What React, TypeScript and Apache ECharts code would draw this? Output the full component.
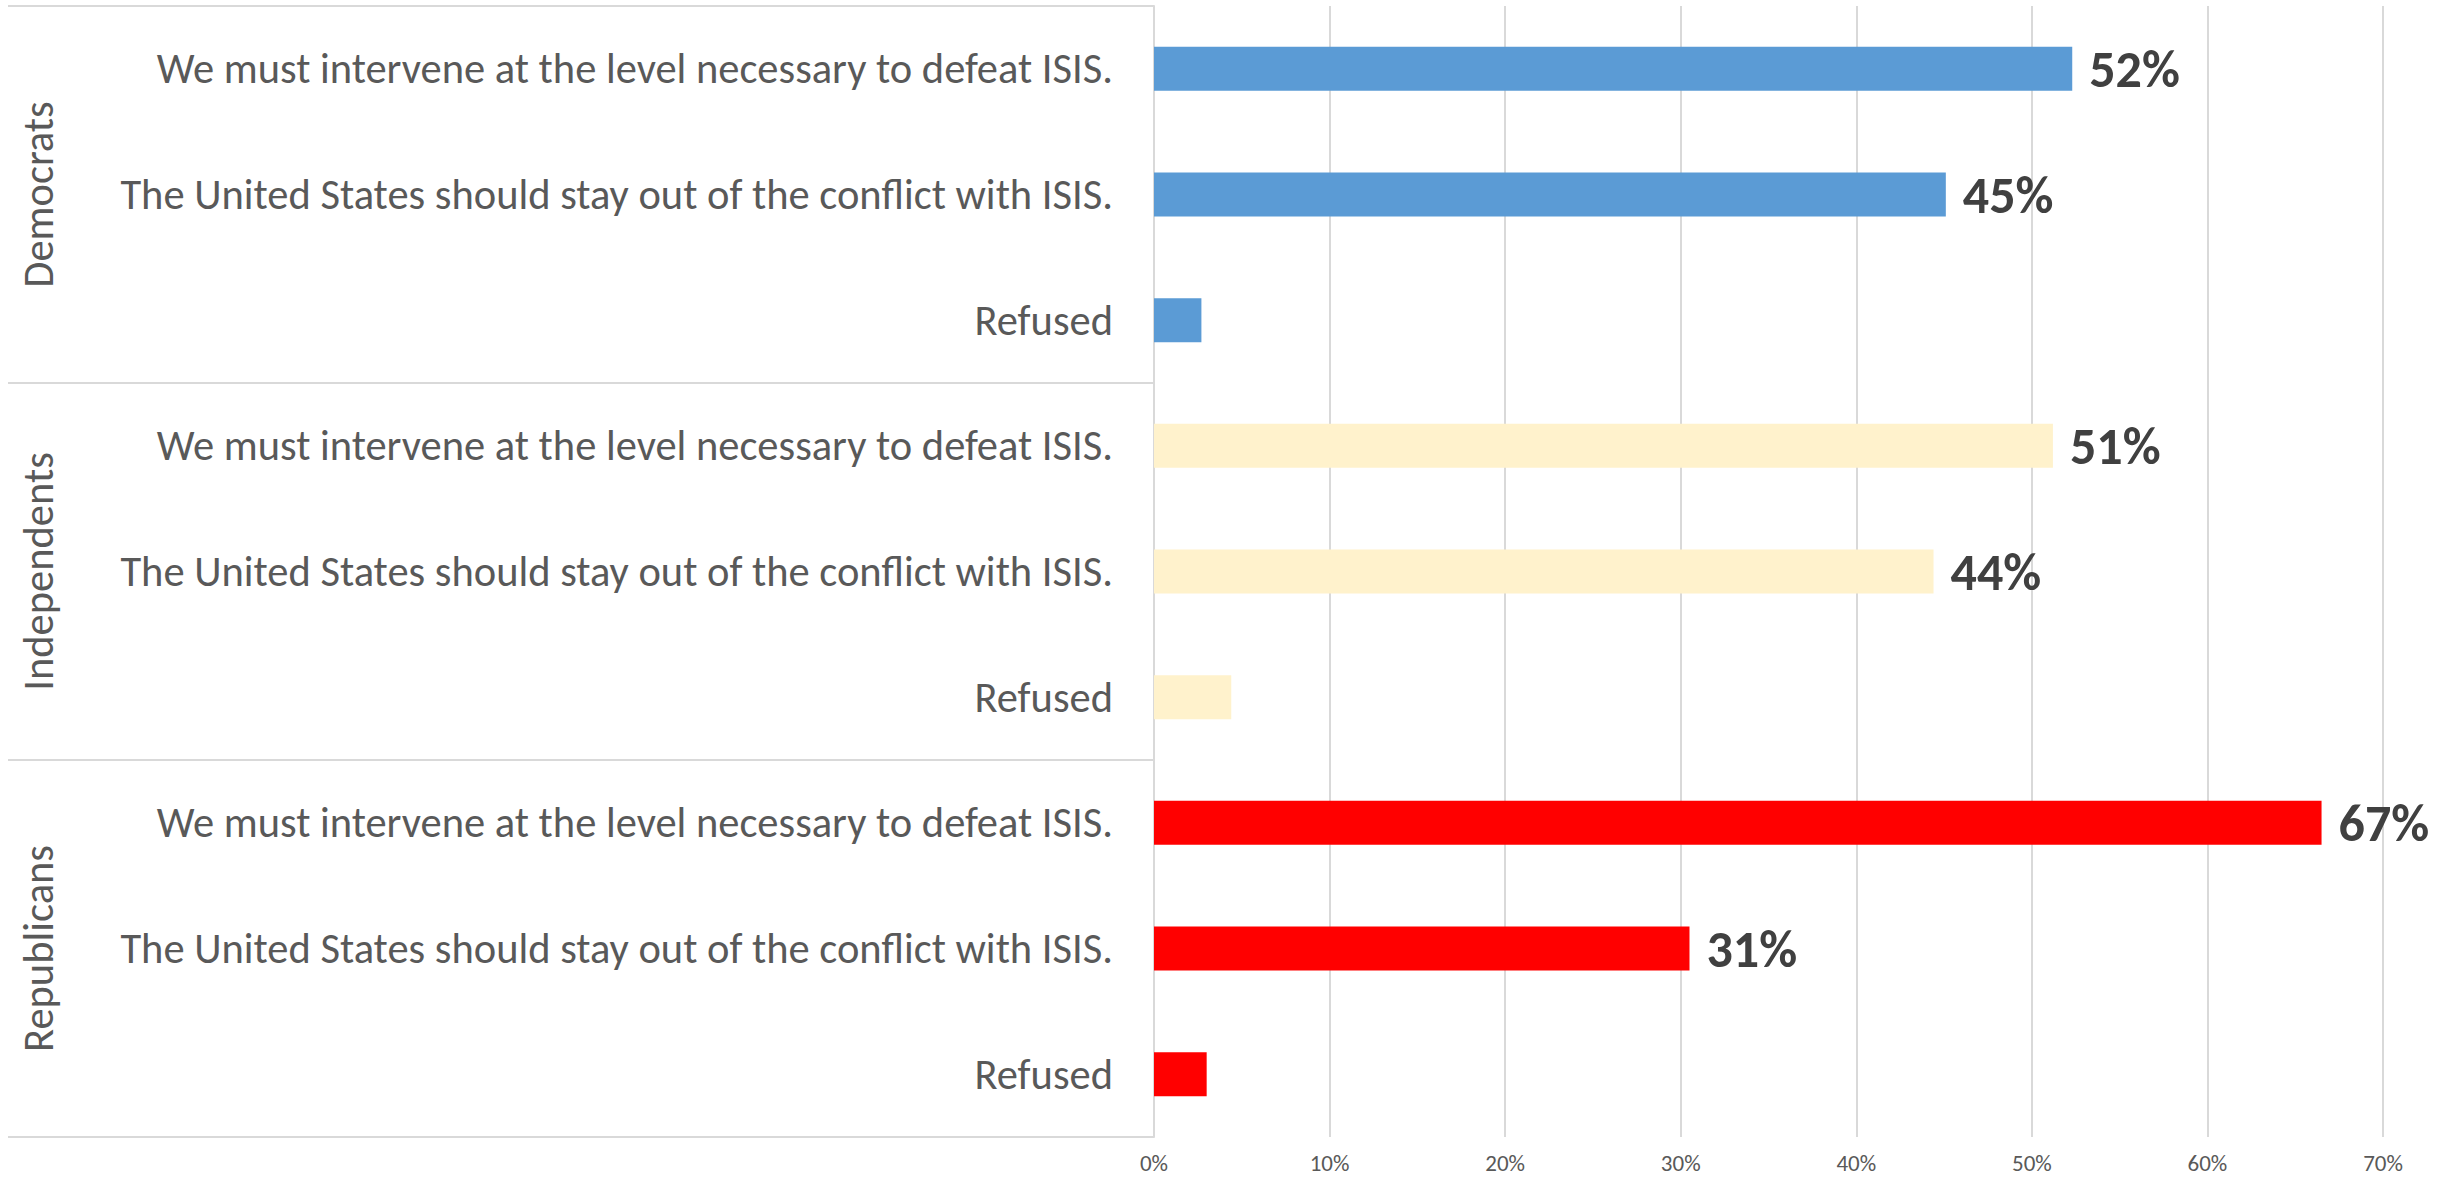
import React, { useEffect, useRef } from "react";
import * as echarts from "echarts";

const groups = ["Democrats", "Independents", "Republicans"];
const answers = [
  "We must intervene at the level necessary to defeat ISIS.",
  "The United States should stay out of the conflict with ISIS.",
  "Refused",
];
const democrats = [52.3, 45.1, 2.7];
const independents = [51.2, 44.4, 4.4];
const republicans = [66.5, 30.5, 3.0];
const groupColors = ["#5B9BD5", "#FFF2CC", "#FF0000"];
const showValueLabel = [true, true, false];
const xMin = 0;
const xMax = 70;
const xStep = 10;

const FONT = "Calibri, Carlito, 'Liberation Sans Narrow', 'Open Sans', sans-serif";

export default function App() {
  const ref = useRef<HTMLDivElement>(null);
  useEffect(() => {
    if (!ref.current) return;
    const chart = echarts.init(ref.current, undefined, { renderer: "svg" });
    const values = [democrats, independents, republicans];
    const categories: string[] = [];
    const data: any[] = [];
    groups.forEach((g, gi) => {
      answers.forEach((a, ai) => {
        categories.push(a);
        data.push({
          value: values[gi][ai],
          itemStyle: { color: groupColors[gi] },
          label: { show: showValueLabel[ai] },
        });
      });
    });
    chart.setOption({
      animation: false,
      backgroundColor: "#ffffff",
      textStyle: { fontFamily: FONT },
      grid: { left: 1154, top: 6, width: 1229, height: 1131, containLabel: false, outerBoundsMode: "none" },
      xAxis: {
        type: "value",
        min: xMin,
        max: xMax,
        interval: xStep,
        axisLine: { show: false },
        axisTick: { show: false },
        splitLine: { show: true, lineStyle: { color: "#D9D9D9", width: 2 } },
        axisLabel: {
          formatter: "{value}%",
          fontSize: 23,
          lineHeight: 20,
          color: "#595959",
          margin: 16,
          fontFamily: FONT,
        },
      },
      yAxis: [
        {
          type: "category",
          data: categories,
          inverse: true,
          axisLine: { show: true, lineStyle: { color: "#D9D9D9", width: 2 } },
          axisTick: { show: false },
          splitLine: { show: false },
          axisLabel: { interval: 0, fontSize: 42.5, color: "#595959", margin: 41, fontFamily: FONT },
        },
        {
          type: "category",
          data: groups,
          inverse: true,
          position: "left",
          axisLine: { show: false },
          axisTick: { show: true, length: 1146, lineStyle: { color: "#D9D9D9", width: 2 } },
          splitLine: { show: false },
          axisLabel: { interval: 0, rotate: 90, fontSize: 42.5, color: "#595959", margin: 1094, fontFamily: FONT },
        },
      ],
      series: [
        {
          type: "bar",
          yAxisIndex: 0,
          barWidth: 44,
          data,
          label: {
            show: true,
            position: "right",
            distance: 17,
            formatter: (p: any) => Math.round(p.value) + "%",
            fontSize: 52,
            fontWeight: "bold",
            color: "#404040",
            fontFamily: FONT,
          },
        },
      ],
    });
    return () => chart.dispose();
  }, []);
  return (
    <div
      ref={ref}
      style={{ position: "fixed", left: 0, top: 0, width: 2450, height: 1179, background: "#fff" }}
    />
  );
}
